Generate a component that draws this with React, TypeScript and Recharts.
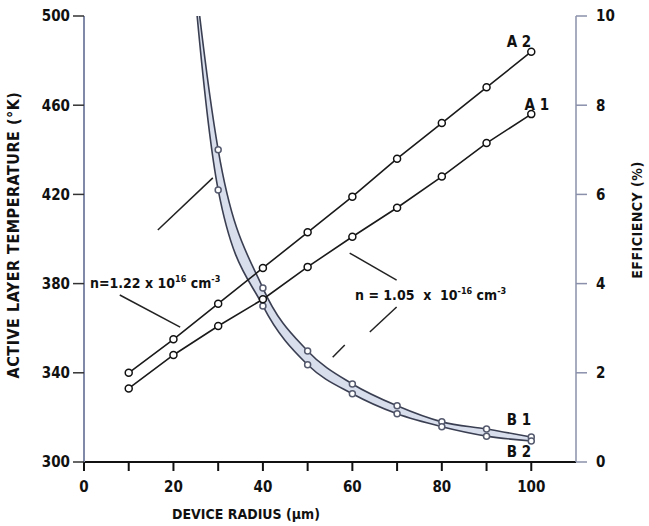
import {
  ComposedChart,
  Line,
  Area,
  XAxis,
  YAxis,
  ReferenceLine,
  ReferenceDot,
} from 'recharts';

const FONT = '"DejaVu Sans Condensed", "DejaVu Sans", sans-serif';

// device radius (um)
const radius = [10, 20, 30, 40, 50, 60, 70, 80, 90, 100];
// active layer temperature (K), left axis
const tempA1 = [333, 348, 361, 373, 387.5, 401, 414, 428, 443, 456];
const tempA2 = [340, 355, 371, 387, 403, 419, 436, 452, 468, 484];
// efficiency (%), right axis
const effB1 = [null, 15.5, 7.0, 3.9, 2.49, 1.75, 1.26, 0.9, 0.74, 0.56];
const effB2 = [null, 16.5, 6.1, 3.5, 2.18, 1.53, 1.08, 0.79, 0.58, 0.47];

const xTicks = [0, 10, 20, 30, 40, 50, 60, 70, 80, 90, 100];
const tempTicks = [300, 340, 380, 420, 460, 500];
const effTicks = [0, 2, 4, 6, 8, 10];

const data = radius.map((r, i) => ({
  r,
  a1: tempA1[i],
  a2: tempA2[i],
  b1: effB1[i],
  b2: effB2[i],
}));

// leader lines of the annotations, in data units (x, temperature)
const leaders = [
  [8.0, 374.9, 21.5, 360.5],
  [16.5, 404, 28.8, 427.4],
  [59.4, 393.7, 69.9, 381.6],
  [69.9, 369.5, 63.9, 358.3],
  [55.6, 347, 58.3, 352.5],
];

const seriesLabels = [
  { text: 'A 2', x: 94.5, y: 486 },
  { text: 'A 1', x: 98.5, y: 458 },
  { text: 'B 1', x: 94.5, y: 316.6 },
  { text: 'B 2', x: 94.5, y: 302.2 },
];

function makeDot(r: number, stroke: string, max: number) {
  return (props: any) => {
    const { cx, cy, value, index } = props;
    if (cx == null || cy == null || value == null || value > max) return <g key={`d${index}`} />;
    return (
      <circle key={`d${index}`} cx={cx} cy={cy} r={r} fill="#fff" stroke={stroke} strokeWidth={1.5} />
    );
  };
}

const sup = (s: string) => (
  <tspan dy={-6} fontSize={9}>
    {s}
  </tspan>
);

export default function App() {
  const tick = { fontFamily: FONT, fontSize: 15, fontWeight: 700, fill: '#111' };
  return (
    <div style={{ position: 'absolute', left: 0, top: 0, background: '#fff' }}>
      <ComposedChart
        width={649}
        height={526}
        data={data}
        margin={{ top: 16, right: 0, left: 0, bottom: 0 }}
      >
        <XAxis
          dataKey="r"
          type="number"
          domain={[0, 110]}
          ticks={xTicks}
          tickFormatter={(v) => (v % 20 === 0 ? String(v) : '')}
          tick={tick}
          tickSize={9}
          tickMargin={10}
          axisLine={{ stroke: '#111', strokeWidth: 2 }}
          tickLine={{ stroke: '#111', strokeWidth: 2 }}
          height={64}
          allowDataOverflow
        />
        <YAxis
          yAxisId="left"
          domain={[300, 500]}
          ticks={tempTicks}
          tick={tick}
          tickSize={11}
          tickMargin={3}
          width={84}
          axisLine={{ stroke: '#8189a8', strokeWidth: 2 }}
          tickLine={{ stroke: '#333', strokeWidth: 1.5 }}
          allowDataOverflow
        />
        <YAxis
          yAxisId="right"
          orientation="right"
          domain={[0, 10]}
          ticks={effTicks}
          tick={tick}
          tickSize={11}
          tickMargin={9}
          width={73}
          axisLine={{ stroke: '#8a90aa', strokeWidth: 1.5 }}
          tickLine={{ stroke: '#8a90aa', strokeWidth: 1.5 }}
          allowDataOverflow
        />

        <Area
          yAxisId="right"
          dataKey={(d: any) => (d.b1 == null ? null : [d.b2, d.b1])}
          type="monotone"
          fill="#d8deec"
          fillOpacity={1}
          stroke="none"
          isAnimationActive={false}
        />
        <Line
          yAxisId="right"
          dataKey="b1"
          type="monotone"
          stroke="#3b3f52"
          strokeWidth={1.6}
          dot={makeDot(3, '#555a6e', 10)}
          isAnimationActive={false}
        />
        <Line
          yAxisId="right"
          dataKey="b2"
          type="monotone"
          stroke="#3b3f52"
          strokeWidth={1.6}
          dot={makeDot(3, '#555a6e', 10)}
          isAnimationActive={false}
        />
        <Line
          yAxisId="left"
          dataKey="a1"
          type="linear"
          stroke="#1a1a1a"
          strokeWidth={1.6}
          dot={makeDot(3.5, '#111', 1000)}
          isAnimationActive={false}
        />
        <Line
          yAxisId="left"
          dataKey="a2"
          type="linear"
          stroke="#1a1a1a"
          strokeWidth={1.6}
          dot={makeDot(3.5, '#111', 1000)}
          isAnimationActive={false}
        />

        {leaders.map(([x1, y1, x2, y2], i) => (
          <ReferenceLine
            key={`l${i}`}
            yAxisId="left"
            segment={[
              { x: x1, y: y1 },
              { x: x2, y: y2 },
            ]}
            stroke="#222"
            strokeWidth={1.5}
          />
        ))}

        {seriesLabels.map((l) => (
          <ReferenceDot
            key={l.text}
            yAxisId="left"
            x={l.x}
            y={l.y}
            r={0}
            shape={(p: any) => (
              <text x={p.cx} y={p.cy} fontFamily={FONT} fontSize={15} fontWeight={700} fill="#111">
                {l.text}
              </text>
            )}
          />
        ))}

        <ReferenceDot
          yAxisId="left"
          x={1.34}
          y={378}
          r={0}
          shape={(p: any) => (
            <text x={p.cx} y={p.cy} fontFamily={FONT} fontSize={14} fontWeight={700} fill="#111">
              n=1.22 x 10{sup('16')}
              <tspan dy={6}> cm</tspan>
              {sup('-3')}
            </text>
          )}
        />
        <ReferenceDot
          yAxisId="left"
          x={60.6}
          y={372.6}
          r={0}
          shape={(p: any) => (
            <text
              x={p.cx}
              y={p.cy}
              fontFamily={FONT}
              fontSize={14}
              fontWeight={700}
              fill="#111"
              style={{ whiteSpace: 'pre' }}
            >
              n = 1.05  x  10{sup('-16')}
              <tspan dy={6}> cm</tspan>
              {sup('-3')}
            </text>
          )}
        />

        <text
          x={13}
          y={235}
          transform="rotate(-90 13 235)"
          textAnchor="middle"
          dominantBaseline="central"
          fontFamily={FONT}
          fontSize={16}
          fontWeight={700}
          fill="#111"
          letterSpacing={0.5}
        >
          ACTIVE LAYER TEMPERATURE (°K)
        </text>
        <text
          x={637}
          y={220}
          transform="rotate(-90 637 220)"
          textAnchor="middle"
          dominantBaseline="central"
          fontFamily={FONT}
          fontSize={14}
          fontWeight={700}
          fill="#111"
          letterSpacing={0.5}
        >
          EFFICIENCY (%)
        </text>
        <text
          x={246}
          y={514}
          textAnchor="middle"
          dominantBaseline="central"
          fontFamily={FONT}
          fontSize={14}
          fontWeight={700}
          fill="#111"
        >
          DEVICE RADIUS (µm)
        </text>
      </ComposedChart>
    </div>
  );
}
